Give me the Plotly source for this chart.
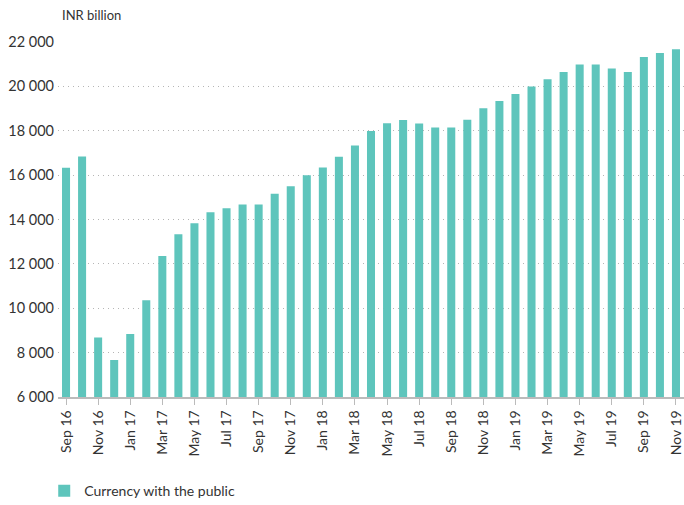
import plotly.graph_objects as go

months = ["Sep 16", "Oct 16", "Nov 16", "Dec 16",
          "Jan 17", "Feb 17", "Mar 17", "Apr 17", "May 17", "Jun 17", "Jul 17", "Aug 17", "Sep 17", "Oct 17", "Nov 17", "Dec 17",
          "Jan 18", "Feb 18", "Mar 18", "Apr 18", "May 18", "Jun 18", "Jul 18", "Aug 18", "Sep 18", "Oct 18", "Nov 18", "Dec 18",
          "Jan 19", "Feb 19", "Mar 19", "Apr 19", "May 19", "Jun 19", "Jul 19", "Aug 19", "Sep 19", "Oct 19", "Nov 19"]

currency_with_public = [16330, 16840, 8680, 7670,
                        8840, 10360, 12350, 13330, 13830, 14330, 14510, 14680, 14680, 15160, 15500, 15990,
                        16340, 16830, 17330, 17990, 18340, 18490, 18330, 18150, 18150, 18500, 19010, 19340,
                        19660, 19990, 20320, 20650, 20990, 20990, 20810, 20650, 21320, 21500, 21670]

y_tick_vals = [6000, 8000, 10000, 12000, 14000, 16000, 18000, 20000, 22000]
y_tick_text = ["6 000", "8 000", "10 000", "12 000", "14 000", "16 000", "18 000", "20 000", "22 000"]

x_tick_vals = months[::2]

FONT = "Lato, 'Open Sans', sans-serif"
TEXT = "#333333"

fig = go.Figure()
fig.add_trace(go.Bar(
    x=months,
    y=currency_with_public,
    name="Currency with the public",
    marker=dict(color="#5ec5bc", line=dict(width=0)),
))

fig.update_layout(
    width=684, height=505,
    margin=dict(l=58, r=0, t=42, b=108, autoexpand=False),
    plot_bgcolor="white", paper_bgcolor="white",
    font=dict(family=FONT, size=14, color=TEXT),
    bargap=0.5,
    showlegend=True,
    legend=dict(orientation="h", x=-0.022, xanchor="left", y=-0.265, yanchor="middle",
                font=dict(family=FONT, size=14, color=TEXT)),
    xaxis=dict(
        type="category", automargin=False,
        tickmode="array", tickvals=x_tick_vals, ticktext=x_tick_vals,
        tickangle=-90,
        ticks="outside", ticklen=6, tickcolor="#bbbbbb", tickwidth=1,
        showline=True, linecolor="#bbbbbb", linewidth=1.5,
        showgrid=False,
        tickfont=dict(family=FONT, size=14, color=TEXT),
    ),
    yaxis=dict(
        range=[6000, 22000], automargin=False,
        tickmode="array", tickvals=y_tick_vals, ticktext=y_tick_text,
        showgrid=True, gridcolor="#b5b5b5", griddash="1px,4px", gridwidth=1,
        zeroline=False, showline=False, ticks="", ticklabelstandoff=3,
        tickfont=dict(family=FONT, size=14.5, color=TEXT),
    ),
    annotations=[dict(
        text="INR billion", xref="paper", yref="paper",
        x=0.003, y=1.075, xanchor="left", yanchor="middle",
        showarrow=False, font=dict(family=FONT, size=13, color=TEXT),
    )],
)

fig.write_html("out.html", config={"displayModeBar": False},
               post_script="document.body.style.margin='0';")
